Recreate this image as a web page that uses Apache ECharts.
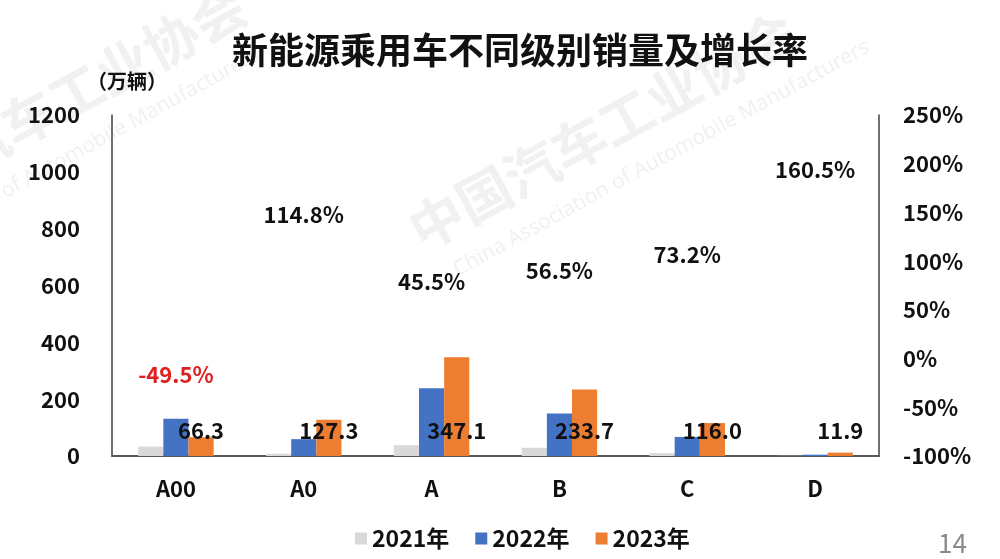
<!DOCTYPE html>
<html>
<head>
<meta charset="utf-8">
<script src="https://cdn.jsdelivr.net/npm/echarts@6/dist/echarts.min.js"></script>
<style>html,body{margin:0;padding:0;background:#fff}#c{width:1000px;height:559px}</style>
</head>
<body>
<div id="c"></div>
<script>
const categories = ['A00', 'A0', 'A', 'B', 'C', 'D'];
const sales2021 = [33, 8, 38, 29, 10, 0.6];
const sales2022 = [131.3, 59.3, 238.6, 149.3, 67.0, 4.6];
const sales2023 = [66.3, 127.3, 347.1, 233.7, 116.0, 11.9];
const growth = [-49.5, 114.8, 45.5, 56.5, 73.2, 160.5];
const leftTicks = [0, 1200, 200];
const rightTicks = [-100, 250, 50];

const FONT = '"Noto Sans CJK SC", "Noto Sans", sans-serif';
const chart = echarts.init(document.getElementById('c'));
const wm = '#f1f1f1';
chart.setOption({
  backgroundColor: '#fff',
  animation: false,
  textStyle: { fontFamily: FONT },
  title: [
    { text: '新能源乘用车不同级别销量及增长率', left: 227, top: 27,
      textStyle: { fontFamily: FONT, fontSize: 36, fontWeight: 'bold', color: '#111' } },
    { text: '（万辆）', left: 82, top: 66,
      textStyle: { fontFamily: FONT, fontSize: 20, fontWeight: 'bold', color: '#111' } },
    { text: '14', left: 933, top: 525,
      textStyle: { fontFamily: FONT, fontSize: 26, fontWeight: 'normal', color: '#8a8a8a' } }
  ],
  graphic: [
    { type: 'text', x: 400, y: 210, rotation: 0.5, z: 0,
      style: { text: '中国汽车工业协会', font: 'bold 54px "Noto Sans CJK SC"', fill: wm } },
    { type: 'text', x: 450, y: 262, rotation: 0.5, z: 0,
      style: { text: 'China Association of Automobile Manufacturers', font: '21px "Noto Sans"', fill: wm } },
    { type: 'text', x: -150, y: 185, rotation: 0.5, z: 0,
      style: { text: '中国汽车工业协会', font: 'bold 54px "Noto Sans CJK SC"', fill: wm } },
    { type: 'text', x: -160, y: 270, rotation: 0.5, z: 0,
      style: { text: 'China Association of Automobile Manufacturers', font: '21px "Noto Sans"', fill: wm } }
  ],
  legend: {
    bottom: 4, left: 350,
    icon: 'rect', itemWidth: 12, itemHeight: 12, itemGap: 26,
    textStyle: { fontFamily: FONT, fontSize: 23, fontWeight: 'bold', color: '#111' },
    data: ['2021年', '2022年', '2023年']
  },
  grid: { left: 112, right: 121, top: 115, bottom: 103 },
  xAxis: {
    type: 'category', data: categories,
    axisLine: { lineStyle: { color: '#595959', width: 2 } },
    axisTick: { show: false },
    axisLabel: { fontFamily: FONT, fontSize: 22, fontWeight: 'bold', color: '#111', margin: 22 }
  },
  yAxis: [
    { type: 'value', min: leftTicks[0], max: leftTicks[1], interval: leftTicks[2],
      axisLine: { show: true, lineStyle: { color: '#404040', width: 1.5 } },
      axisTick: { show: false }, splitLine: { show: false },
      axisLabel: { fontFamily: FONT, fontSize: 22, fontWeight: 'bold', color: '#111', margin: 32,
        formatter: v => String(v) } },
    { type: 'value', min: rightTicks[0], max: rightTicks[1], interval: rightTicks[2],
      axisLine: { show: true, lineStyle: { color: '#404040', width: 1.5 } },
      axisTick: { show: false }, splitLine: { show: false },
      axisLabel: { fontFamily: FONT, fontSize: 22, fontWeight: 'bold', color: '#111', margin: 24,
        formatter: v => v + '%' } }
  ],
  series: [
    { name: '2021年', type: 'bar', data: sales2021, barGap: '0%', barCategoryGap: '41%',
      itemStyle: { color: '#d9d9d9' } },
    { name: '2022年', type: 'bar', data: sales2022, itemStyle: { color: '#4472c4' } },
    { name: '2023年', type: 'bar', data: sales2023, itemStyle: { color: '#ed7d31' },
      label: { show: true, position: 'insideBottom', distance: 14,
        fontFamily: FONT, fontSize: 22, fontWeight: 'bold', color: '#111',
        formatter: p => p.value.toFixed(1) } },
    { name: '增长率', type: 'scatter', yAxisIndex: 1, symbolSize: 1,
      itemStyle: { color: 'rgba(0,0,0,0)', opacity: 1 },
      data: growth.map(v => ({ value: v, label: v < 0 ? { color: '#e02020' } : {} })),
      label: { show: true, position: 'top', distance: 21,
        fontFamily: FONT, fontSize: 22, fontWeight: 'bold', color: '#111',
        formatter: p => p.value.toFixed(1) + '%' } }
  ]
});
</script>
</body>
</html>
